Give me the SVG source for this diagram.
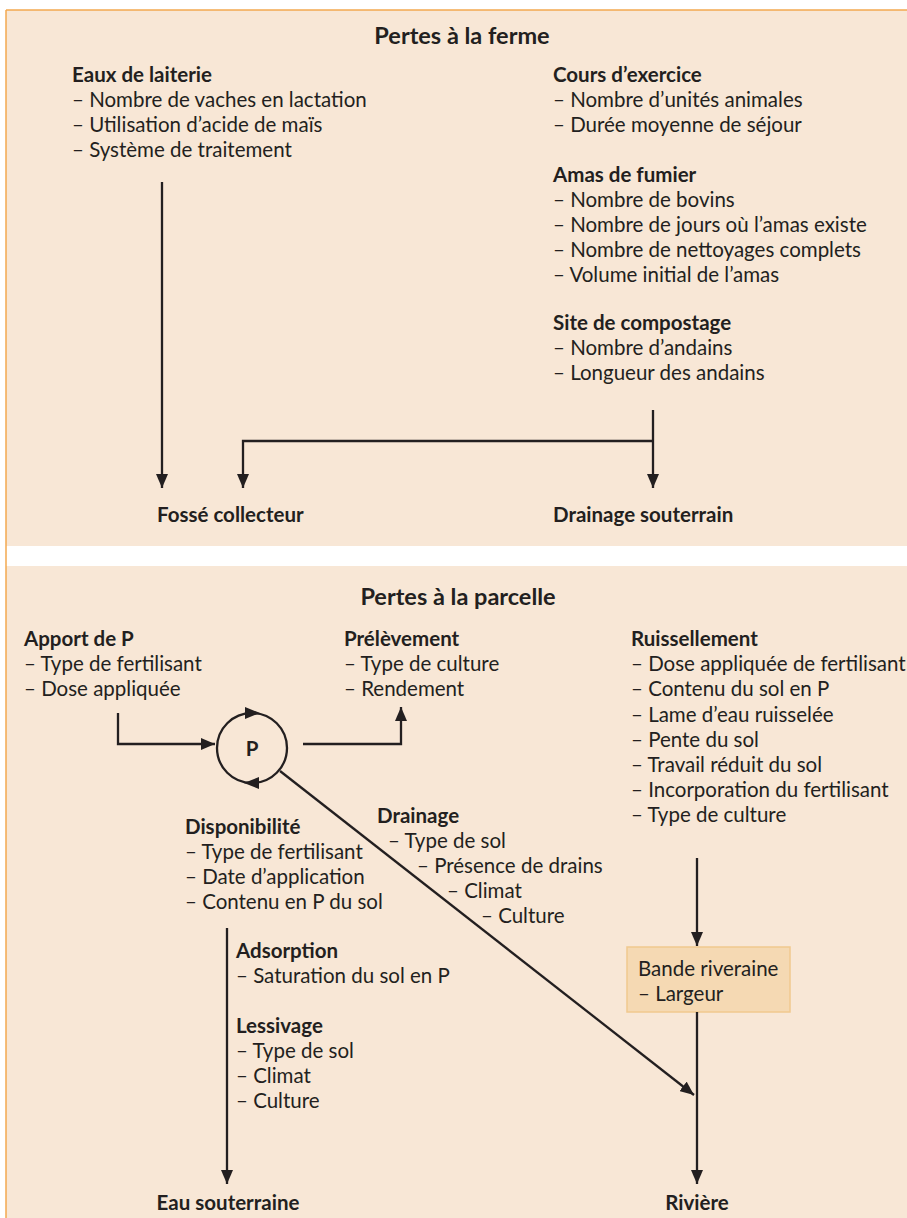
<svg xmlns="http://www.w3.org/2000/svg" width="907" height="1218" viewBox="0 0 907 1218">
<style>
text{font-family:Lato,"Open Sans","Liberation Sans",sans-serif;fill:#231f20;font-size:20.5px}
.h{font-weight:bold}
.title{font-weight:bold;font-size:23.5px;text-anchor:middle}
.c{text-anchor:middle}
.ln{stroke:#231f20;stroke-width:2.3;fill:none}
</style>
<defs>
<marker id="ah" markerUnits="userSpaceOnUse" markerWidth="14" markerHeight="12" refX="14" refY="6" orient="auto">
<path d="M0,0 L14,6 L0,12 z" fill="#231f20"/>
</marker>
</defs>
<rect x="0" y="0" width="907" height="1218" fill="#ffffff"/>
<rect x="6" y="10" width="901" height="536" fill="#f8e7d6"/>
<rect x="6" y="566" width="901" height="652" fill="#f8e7d6"/>
<line x1="6" y1="10" x2="907" y2="10" stroke="#f3a94f" stroke-width="1.5"/>
<line x1="6" y1="10" x2="6" y2="1218" stroke="#f3a94f" stroke-width="1.5"/>

<g id="title-ferme"><text class="title" x="462" y="44">Pertes à la ferme</text></g>
<g id="eaux-laiterie">
<text class="h" x="72" y="82">Eaux de laiterie</text>
<text x="72" y="107">– Nombre de vaches en lactation</text>
<text x="72" y="132">– Utilisation d’acide de maïs</text>
<text x="72" y="157">– Système de traitement</text>
</g>
<g id="cours-exercice">
<text class="h" x="553" y="82">Cours d’exercice</text>
<text x="553" y="107">– Nombre d’unités animales</text>
<text x="553" y="132">– Durée moyenne de séjour</text>
</g>
<g id="amas-fumier">
<text class="h" x="553" y="182">Amas de fumier</text>
<text x="553" y="207">– Nombre de bovins</text>
<text x="553" y="232">– Nombre de jours où l’amas existe</text>
<text x="553" y="257">– Nombre de nettoyages complets</text>
<text x="553" y="282">– Volume initial de l’amas</text>
</g>
<g id="site-compostage">
<text class="h" x="553" y="330">Site de compostage</text>
<text x="553" y="355">– Nombre d’andains</text>
<text x="553" y="380">– Longueur des andains</text>
</g>
<g id="fosse-collecteur"><text class="h" x="157" y="522">Fossé collecteur</text></g>
<g id="drainage-souterrain"><text class="h" x="553" y="522">Drainage souterrain</text></g>

<g id="title-parcelle"><text class="title" x="458" y="605">Pertes à la parcelle</text></g>
<g id="apport-p">
<text class="h" x="24" y="646">Apport de P</text>
<text x="24" y="671">– Type de fertilisant</text>
<text x="24" y="696">– Dose appliquée</text>
</g>
<g id="prelevement">
<text class="h" x="344" y="646">Prélèvement</text>
<text x="344" y="671">– Type de culture</text>
<text x="344" y="696">– Rendement</text>
</g>
<g id="ruissellement">
<text class="h" x="631" y="646">Ruissellement</text>
<text x="631" y="671">– Dose appliquée de fertilisant</text>
<text x="631" y="696">– Contenu du sol en P</text>
<text x="631" y="722">– Lame d’eau ruisselée</text>
<text x="631" y="747">– Pente du sol</text>
<text x="631" y="772">– Travail réduit du sol</text>
<text x="631" y="797">– Incorporation du fertilisant</text>
<text x="631" y="822">– Type de culture</text>
</g>
<g id="p-pool">
<circle cx="252" cy="748" r="35" class="ln"/>
<path d="M245,707 L260,713 L245,719 z" fill="#231f20"/>
<path d="M259,777 L244,783 L259,789 z" fill="#231f20"/>
<text class="h c" x="252" y="756" font-size="22">P</text>
</g>
<g id="disponibilite">
<text class="h" x="185" y="834">Disponibilité</text>
<text x="185" y="859">– Type de fertilisant</text>
<text x="185" y="884">– Date d’application</text>
<text x="185" y="909">– Contenu en P du sol</text>
</g>
<g id="drainage">
<text class="h" x="377" y="823">Drainage</text>
<text x="388" y="848">– Type de sol</text>
<text x="417" y="873">– Présence de drains</text>
<text x="447" y="898">– Climat</text>
<text x="481" y="923">– Culture</text>
</g>
<g id="adsorption">
<text class="h" x="236" y="958">Adsorption</text>
<text x="236" y="983">– Saturation du sol en P</text>
</g>
<g id="lessivage">
<text class="h" x="236" y="1033">Lessivage</text>
<text x="236" y="1058">– Type de sol</text>
<text x="236" y="1083">– Climat</text>
<text x="236" y="1108">– Culture</text>
</g>
<g id="bande-riveraine">
<rect x="627" y="947" width="163" height="65" fill="#f5d9b3" stroke="#f0c98f" stroke-width="1.5"/>
<text x="638" y="976" font-size="21.5">Bande riveraine</text>
<text x="638" y="1001" font-size="21.5">– Largeur</text>
</g>
<g id="eau-souterraine"><text class="h c" x="228" y="1210">Eau souterraine</text></g>
<g id="riviere"><text class="h c" x="697" y="1210">Rivière</text></g>

<g id="connectors">
<line class="ln" x1="162" y1="182" x2="162" y2="488" marker-end="url(#ah)"/>
<polyline class="ln" points="653,410 653,488" marker-end="url(#ah)"/>
<polyline class="ln" points="653,441 243,441 243,488" marker-end="url(#ah)"/>
<polyline class="ln" points="118,713 118,744 215,744" marker-end="url(#ah)"/>
<polyline class="ln" points="303,744 401,744 401,707" marker-end="url(#ah)"/>
<line class="ln" x1="280" y1="771" x2="694" y2="1095" marker-end="url(#ah)"/>
<line class="ln" x1="227" y1="928" x2="227" y2="1184" marker-end="url(#ah)"/>
<line class="ln" x1="697" y1="858" x2="697" y2="946" marker-end="url(#ah)"/>
<line class="ln" x1="697" y1="1012" x2="697" y2="1184" marker-end="url(#ah)"/>
</g>
</svg>
